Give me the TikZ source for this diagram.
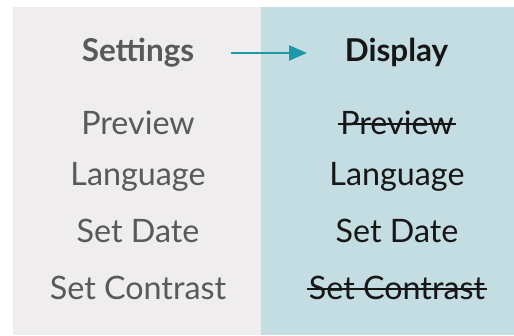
\documentclass[tikz,border=0pt]{standalone}
\usepackage{fontspec}
\setmainfont{Lato}
\usetikzlibrary{arrows.meta}
\definecolor{leftbg}{HTML}{EFEDEE}
\definecolor{rightbg}{HTML}{C4DDE2}
\definecolor{graytxt}{HTML}{595959}
\definecolor{darktxt}{HTML}{161616}
\definecolor{teal}{HTML}{1C98A6}
\tikzset{
  lbl/.style={anchor=base, inner sep=0pt, font=\fontsize{32.4}{32}\selectfont},
  lefttxt/.style={lbl, text=graytxt},
  righttxt/.style={lbl, text=darktxt},
  head/.style={font=\fontsize{31.6}{32}\selectfont\bfseries},
  strike/.style={line width=1.8bp, draw=darktxt},
  flow/.style={draw=teal, line width=2.5bp, -{Triangle[length=18bp,width=15bp]}}
}
\begin{document}
\begin{tikzpicture}[x=1bp,y=-1bp]
\useasboundingbox (0,0) rectangle (514,335);
\fill[white] (0,0) rectangle (514,335);
\fill[leftbg] (13,7) rectangle (261,335);
\fill[rightbg] (261,7) rectangle (514,335);
% headers
\node[lefttxt, head] (sett) at (138,61) {Settings};
\node[righttxt, head] (disp) at (396.5,61) {Display};
\coordinate (a0) at (231,53);
\coordinate (a1) at (307,53);
\draw[flow] (a0) -- (a1);
% left column
\node[lefttxt] (l1) at (138,134) {Preview};
\node[lefttxt] (l2) at (138,185) {Language};
\node[lefttxt] (l3) at (138,242) {Set Date};
\node[lefttxt] (l4) at (138,299) {Set Contrast};
% right column
\node[righttxt] (r1) at (397,134) {Preview};
\node[righttxt] (r2) at (397,185) {Language};
\node[righttxt] (r3) at (397,242) {Set Date};
\node[righttxt] (r4) at (397,299) {Set Contrast};
\draw[strike] ([xshift=-2bp,yshift=10bp]r1.base west) -- ([xshift=2bp,yshift=10bp]r1.base east);
\draw[strike] ([xshift=-2bp,yshift=10bp]r4.base west) -- ([xshift=2bp,yshift=10bp]r4.base east);
\end{tikzpicture}
\end{document}
